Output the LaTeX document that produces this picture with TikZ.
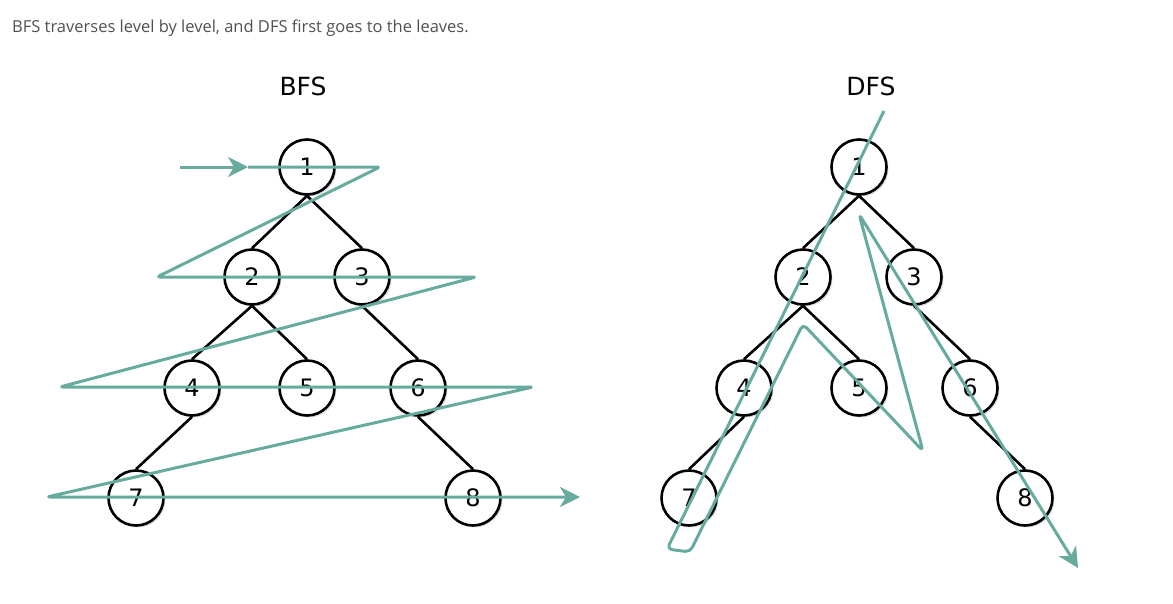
\documentclass[tikz,border=0pt]{standalone}
\usepackage{fontspec}
\usepackage{xcolor}
\usepackage{tikz}
\usetikzlibrary{shapes,arrows,arrows.meta,positioning,shadows}
\setmainfont{Open Sans}
\newfontfamily\handfont{DejaVu Sans}
\definecolor{trailteal}{HTML}{67AB9F}
\definecolor{captiongray}{HTML}{505050}
\tikzstyle{vertex} = [circle, draw=black, line width=2.6pt, fill=white,
    minimum size=55pt, inner sep=0pt, font=\handfont\fontsize{24}{24}\selectfont,
    drop shadow={shadow xshift=2pt, shadow yshift=-2pt, opacity=0.25}]
\tikzstyle{edge} = [draw=black, line width=2.6pt]
\tikzstyle{trail} = [draw=trailteal, line width=3pt, rounded corners=3pt, line join=round]
\tikzstyle{tip} = [-{Stealth[length=20pt, width=20pt, inset=6pt]}]
\tikzstyle{title} = [font=\handfont\fontsize{25}{25}\selectfont]
\tikzstyle{caption} = [anchor=base west, inner sep=0pt, text=captiongray,
    font=\fontsize{16.5}{20}\selectfont]

\begin{document}
\begin{tikzpicture}[x=1pt, y=-1pt]
    \useasboundingbox (0,0) rectangle (1173,603);

    % Place caption and titles
    \node [caption] (Caption) at (12,32) {BFS traverses level by level, and DFS first goes to the leaves.};
    \node [title] (BFSTitle) at (303,86) {BFS};
    \node [title] (DFSTitle) at (871,86) {DFS};

    % Place BFS nodes
    \node [vertex] (B1) at (307,167) {1};
    \node [vertex] (B2) at (252,277) {2};
    \node [vertex] (B3) at (362,277) {3};
    \node [vertex] (B4) at (192,388) {4};
    \node [vertex] (B5) at (307,388) {5};
    \node [vertex] (B6) at (418,388) {6};
    \node [vertex] (B7) at (136,498) {7};
    \node [vertex] (B8) at (473,498) {8};

    % Place DFS nodes
    \node [vertex] (D1) at (859,167) {1};
    \node [vertex] (D2) at (803,277) {2};
    \node [vertex] (D3) at (914,277) {3};
    \node [vertex] (D4) at (744,388) {4};
    \node [vertex] (D5) at (859,388) {5};
    \node [vertex] (D6) at (970,388) {6};
    \node [vertex] (D7) at (689,498) {7};
    \node [vertex] (D8) at (1025,498) {8};

    % Tree edges
    \draw [edge] (B1.south) -- (B2.north);
    \draw [edge] (B1.south) -- (B3.north);
    \draw [edge] (B2.south) -- (B4.north);
    \draw [edge] (B2.south) -- (B5.north);
    \draw [edge] (B3.south) -- (B6.north);
    \draw [edge] (B4.south) -- (B7.north);
    \draw [edge] (B6.south) -- (B8.north);
    \draw [edge] (D1.south) -- (D2.north);
    \draw [edge] (D1.south) -- (D3.north);
    \draw [edge] (D2.south) -- (D4.north);
    \draw [edge] (D2.south) -- (D5.north);
    \draw [edge] (D3.south) -- (D6.north);
    \draw [edge] (D4.south) -- (D7.north);
    \draw [edge] (D6.south) -- (D8.north);

    % BFS trail, level by level
    \coordinate (BStart) at (180,167);
    \coordinate (BArrow) at (248,167);
    \coordinate (BTurnA) at (380,167);
    \coordinate (BTurnB) at (157,277);
    \coordinate (BTurnC) at (476,277);
    \coordinate (BTurnD) at (60,387);
    \coordinate (BTurnE) at (533,387);
    \coordinate (BTurnF) at (47,497);
    \coordinate (BEnd) at (580,497);
    \draw [trail, tip] (BStart) -- (BArrow);
    \draw [trail, tip] (BArrow) -- (BTurnA) -- (BTurnB) -- (BTurnC) -- (BTurnD)
        -- (BTurnE) -- (BTurnF) -- (BEnd);

    % DFS trail, down to the leaves
    \coordinate (DStart) at (884,111);
    \coordinate (DTurnA) at (667,549);
    \coordinate (DTurnB) at (690,552);
    \coordinate (DTurnC) at (803,324);
    \coordinate (DTurnD) at (923,451);
    \coordinate (DTurnE) at (859,214);
    \coordinate (DEnd) at (1078,568);
    \draw [trail, tip, rounded corners=5pt] (DStart) -- (DTurnA) -- (DTurnB) -- (DTurnC)
        -- (DTurnD) -- (DTurnE) -- (DEnd);
\end{tikzpicture}
\end{document}
